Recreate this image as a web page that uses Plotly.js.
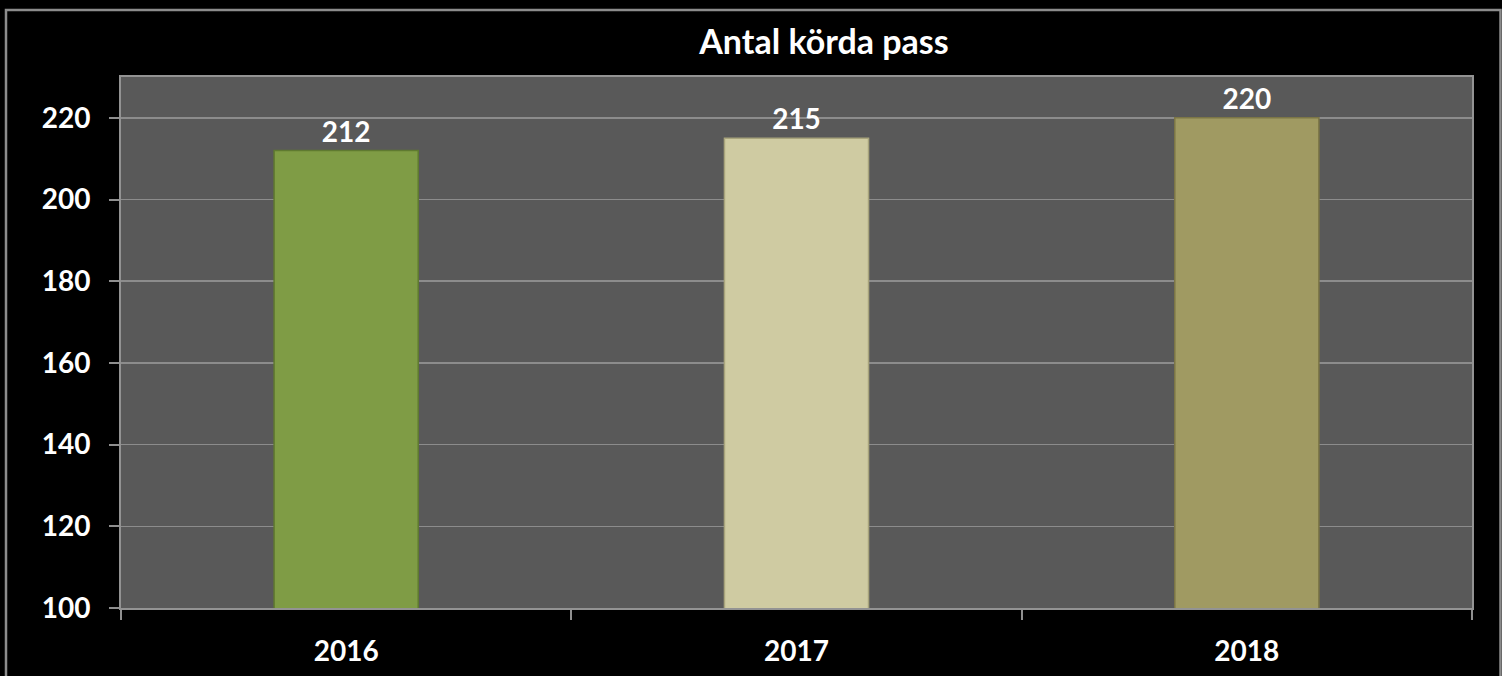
<!DOCTYPE html>
<html>
<head>
<meta charset="utf-8">
<script src="https://cdn.plot.ly/plotly-3.0.1.min.js"></script>
<style>
html,body{margin:0;padding:0;background:#000;}
#chart{width:1502px;height:676px;}
</style>
</head>
<body>
<div id="chart"></div>
<script>
const categories = ["2016", "2017", "2018"];
const values = [212, 215, 220];
const barColors = ["#7f9c45", "#cfcba2", "#a09a62"];
const barEdges = ["#5f7a30", "#a8a47c", "#7c7646"];
const yTicks = [100, 120, 140, 160, 180, 200, 220];

const L = 121, R = 1472, T = 77, B = 608, W = 1502, H = 676;
const pw = R - L, ph = B - T;
const px = v => (v - L) / pw;
const py = v => (B - v) / ph;
const FONT = "Lato, 'Open Sans', sans-serif";

const trace = {
  type: "bar",
  x: categories,
  y: values,
  text: values.map(v => "<b>" + v + "</b>"),
  textposition: "outside",
  cliponaxis: false,
  textfont: {family: FONT, size: 28, color: "#ffffff", weight: "bold"},
  marker: {color: barColors, line: {color: barEdges, width: 1.5}},
  hoverinfo: "x+y"
};

const layout = {
  width: W, height: H,
  margin: {l: L, r: W - R, t: T, b: H - B, pad: 0},
  paper_bgcolor: "#000000",
  plot_bgcolor: "#595959",
  bargap: 0.68,
  showlegend: false,
  font: {family: FONT, color: "#ffffff", size: 28, weight: "bold"},
  title: {
    text: "<b>Antal körda pass</b>",
    font: {family: FONT, size: 34, color: "#ffffff", weight: "bold"},
    xref: "paper", x: px(824), xanchor: "center",
    yref: "container", y: 1 - 42 / H, yanchor: "middle"
  },
  xaxis: {
    type: "category",
    tickson: "boundaries",
    ticks: "outside", ticklen: 10, tickwidth: 2, tickcolor: "#8f8f8f",
    ticklabelstandoff: 17,
    tickvals: categories,
    ticktext: categories.map(c => "<b>" + c + "</b>"),
    showline: true, linecolor: "#939393", linewidth: 2, mirror: true,
    showgrid: false,
    tickfont: {family: FONT, size: 28, color: "#ffffff", weight: "bold"}
  },
  yaxis: {
    range: [100, 230],
    tickvals: yTicks,
    ticktext: yTicks.map(v => "<b>" + v + "</b>"),
    ticks: "outside", ticklen: 10, tickwidth: 2, tickcolor: "#8f8f8f",
    ticklabelstandoff: 13,
    showline: true, linecolor: "#939393", linewidth: 2, mirror: true,
    showgrid: true, gridcolor: "#8c8c8c", gridwidth: 1.5,
    zeroline: false,
    tickfont: {family: FONT, size: 28, color: "#ffffff", weight: "bold"}
  },
  shapes: [{
    type: "rect", xref: "paper", yref: "paper", layer: "above",
    x0: px(6), x1: px(1500.5), y0: py(680), y1: py(10),
    line: {color: "#8c8c8c", width: 2.5}, fillcolor: "rgba(0,0,0,0)"
  }]
};

Plotly.newPlot("chart", [trace], layout, {displayModeBar: false, staticPlot: true});
</script>
</body>
</html>
